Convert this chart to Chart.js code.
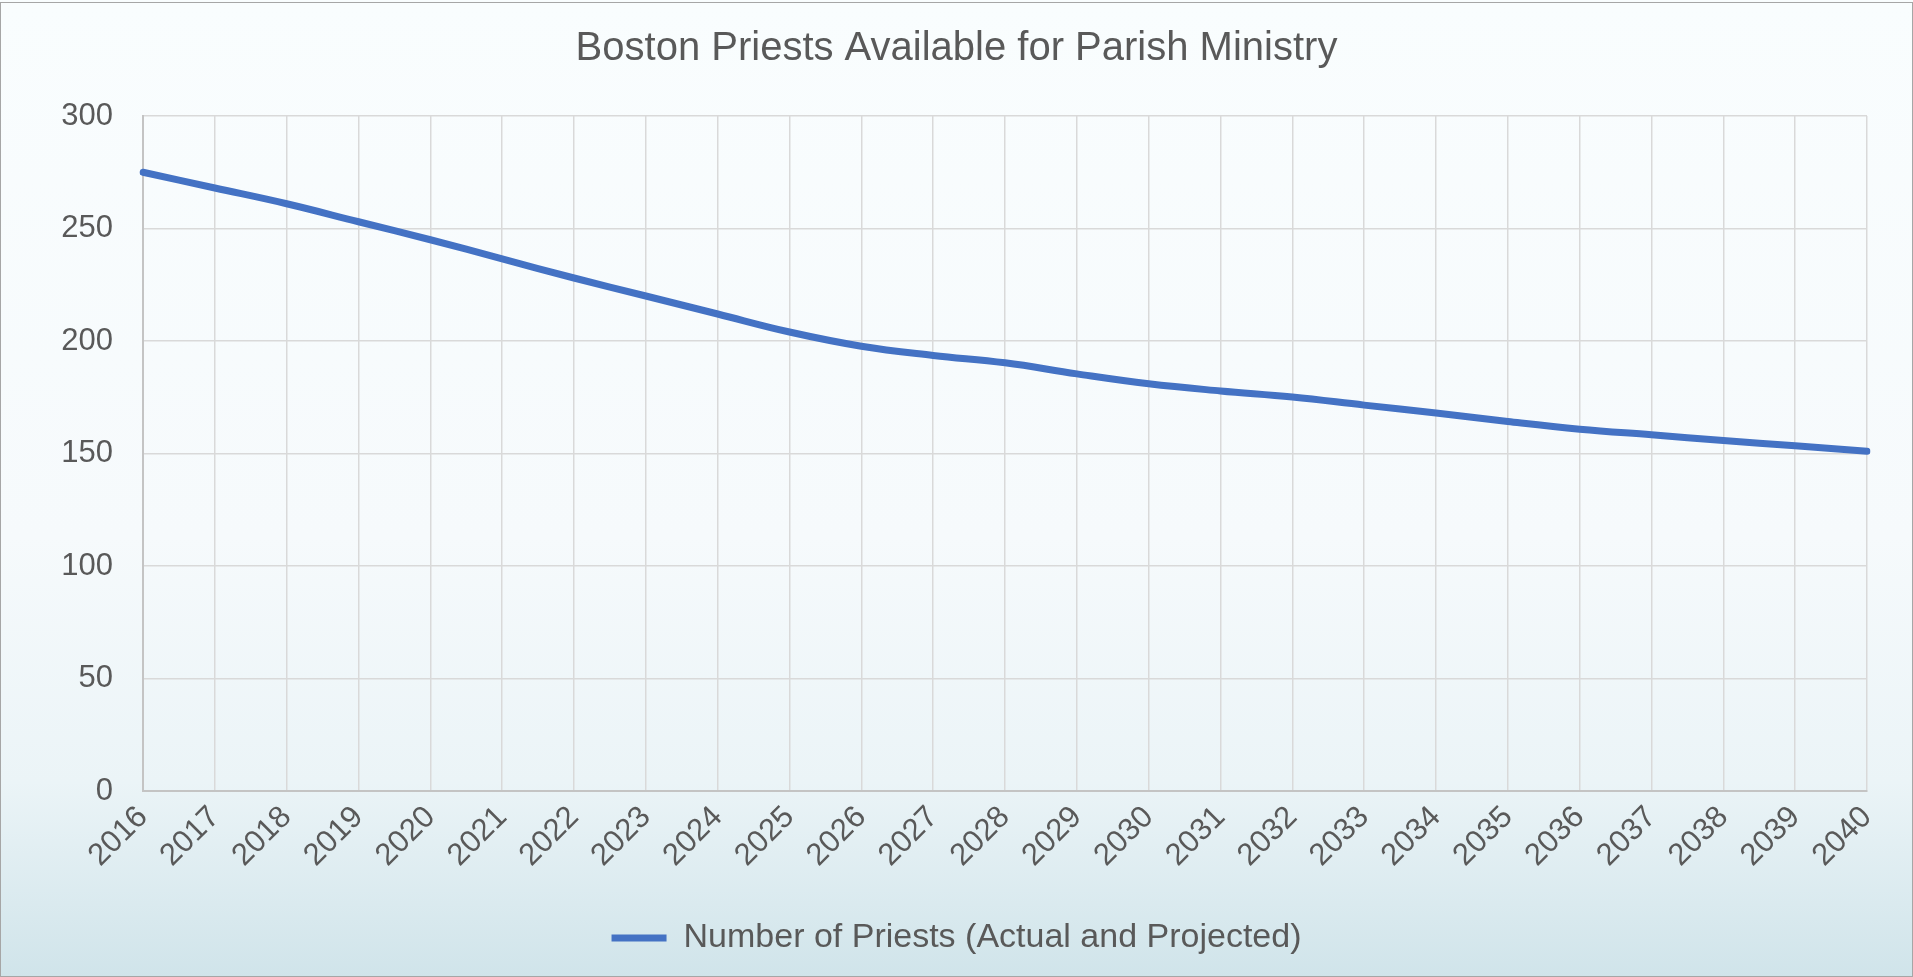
<!DOCTYPE html>
<html lang="en">
<head>
    <meta charset="UTF-8">
    <title>Boston Priests Available for Parish Ministry</title>
    <script src="https://cdn.jsdelivr.net/npm/chart.js"></script>
    <style>
        html, body { margin: 0; padding: 0; background: #fff; }
        #wrap { width: 1913px; height: 977px; }
    </style>
</head>
<body>
    <div id="wrap"><canvas id="myChart" width="1913" height="977"></canvas></div>
    <script>
        const years = ['2016', '2017', '2018', '2019', '2020', '2021', '2022', '2023', '2024', '2025', '2026', '2027',
                       '2028', '2029', '2030', '2031', '2032', '2033', '2034', '2035', '2036', '2037', '2038', '2039', '2040'];
        const priests = [275, 268, 261, 253, 245, 236.5, 228, 220, 212, 204, 197.7, 193.6,
                         190.3, 185.4, 181, 177.8, 175.1, 171.5, 168, 164.2, 160.8, 158.3, 155.8, 153.4, 151];
        const seriesName = 'Number of Priests (Actual and Projected)';
        const chartTitle = 'Boston Priests Available for Parish Ministry';

        const textColor = '#595959';
        const fontFamily = '"Liberation Sans", Arial, sans-serif';

        // soft blue-grey backdrop with thin frame, like the office chart style
        const backdrop = {
            id: 'backdrop',
            beforeDraw(chart) {
                const { ctx, width, height } = chart;
                ctx.save();
                const g = ctx.createLinearGradient(0, 0, 0, height);
                g.addColorStop(0, '#f9fdfe');
                g.addColorStop(0.55, '#f6fafc');
                g.addColorStop(0.8, '#ebf4f7');
                g.addColorStop(1, '#d0e4ea');
                ctx.fillStyle = g;
                ctx.fillRect(0, 0, width, height);
                ctx.strokeStyle = '#a6a6a6';
                ctx.lineWidth = 1;
                ctx.strokeRect(0.5, 2.5, width - 1, height - 3);
                ctx.restore();
            }
        };

        const ctx = document.getElementById('myChart').getContext('2d');
        new Chart(ctx, {
            type: 'line',
            data: {
                labels: years,
                datasets: [{
                    label: seriesName,
                    data: priests,
                    borderColor: '#4472c4',
                    backgroundColor: '#4472c4',
                    borderWidth: 7,
                    borderCapStyle: 'round',
                    pointRadius: 0,
                    tension: 0.4,
                    fill: false
                }]
            },
            options: {
                responsive: false,
                animation: false,
                layout: {
                    padding: { top: 8, left: 0, right: 0, bottom: 12 }
                },
                plugins: {
                    title: {
                        display: true,
                        text: chartTitle,
                        color: textColor,
                        font: { family: fontFamily, size: 40, weight: 'normal' },
                        padding: { top: 17, bottom: 43 }
                    },
                    legend: {
                        position: 'bottom',
                        labels: {
                            color: textColor,
                            font: { family: fontFamily, size: 34 },
                            usePointStyle: true,
                            pointStyle: 'line',
                            pointStyleWidth: 55,
                            padding: 16
                        }
                    },
                    tooltip: { enabled: false }
                },
                scales: {
                    x: {
                        offset: false,
                        grid: { color: '#d9d9d9', lineWidth: 1.5, drawTicks: false },
                        border: { color: '#c4c4c4', width: 2 },
                        ticks: {
                            color: textColor,
                            font: { family: fontFamily, size: 31 },
                            maxRotation: 45,
                            minRotation: 45,
                            padding: 8,
                            autoSkip: false
                        },
                        afterFit(scale) { scale.height = 114; }
                    },
                    y: {
                        min: 0,
                        max: 300,
                        grid: { color: '#d9d9d9', lineWidth: 1.5, drawTicks: false },
                        border: { color: '#c4c4c4', width: 2 },
                        ticks: {
                            stepSize: 50,
                            color: textColor,
                            font: { family: fontFamily, size: 31 },
                            padding: 30
                        },
                        afterFit(scale) { scale.width = 143; }
                    },
                    // empty right-hand spacer so title and legend stay centred on the whole canvas
                    yRight: {
                        position: 'right',
                        min: 0,
                        max: 300,
                        grid: { display: false, drawTicks: false },
                        border: { display: false },
                        ticks: { display: false },
                        afterFit(scale) { scale.width = 46; }
                    }
                }
            },
            plugins: [backdrop]
        });
    </script>
</body>
</html>
